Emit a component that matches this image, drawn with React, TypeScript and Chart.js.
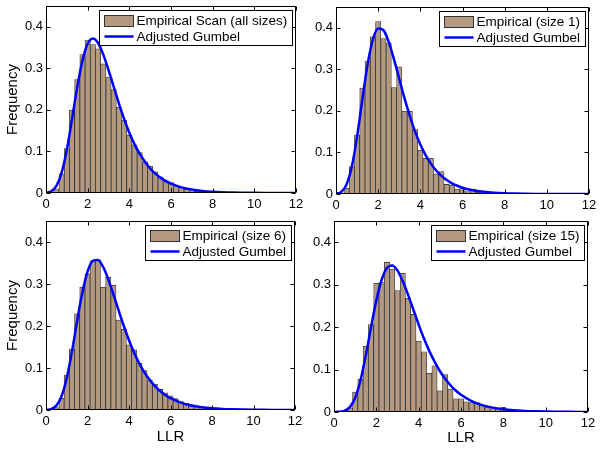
import React, { useEffect, useRef } from 'react';
import { Chart, registerables } from 'chart.js';

Chart.register(...registerables);

// ---- data ----
const binCenters = [0.25, 0.5, 0.75, 1, 1.25, 1.5, 1.75, 2, 2.25, 2.5, 2.75, 3, 3.25, 3.5, 3.75, 4, 4.25, 4.5, 4.75, 5,
  5.25, 5.5, 5.75, 6, 6.25, 6.5, 6.75, 7, 7.25, 7.5, 7.75, 8, 8.25, 8.5, 8.75, 9, 9.25, 9.5, 9.75, 10];

const freqAllSizes = [0.001, 0.010, 0.046, 0.107, 0.199, 0.273, 0.333, 0.368, 0.357, 0.347,
  0.311, 0.279, 0.249, 0.206, 0.175, 0.139, 0.116, 0.097, 0.075, 0.064,
  0.051, 0.039, 0.030, 0.025, 0.018, 0.014, 0.009, 0.006, 0.004, 0.0025,
  0.0015, 0.001, 0.0005, 0.0003, 0, 0, 0, 0, 0, 0];

const freqSize1 = [0.002, 0.014, 0.066, 0.142, 0.255, 0.320, 0.378, 0.415, 0.374, 0.364,
  0.256, 0.306, 0.199, 0.199, 0.155, 0.105, 0.086, 0.086, 0.048, 0.054,
  0.023, 0.021, 0.012, 0.013, 0.006, 0.012, 0.004, 0.003, 0.002, 0.002,
  0.001, 0.001, 0.0005, 0, 0, 0, 0, 0, 0, 0];

const freqSize6 = [0.001, 0.006, 0.028, 0.083, 0.145, 0.229, 0.292, 0.324, 0.355, 0.358,
  0.292, 0.316, 0.297, 0.214, 0.192, 0.155, 0.143, 0.111, 0.094, 0.072,
  0.061, 0.049, 0.041, 0.034, 0.027, 0.020, 0.016, 0.012, 0.008, 0.006,
  0.004, 0.003, 0.002, 0.001, 0.0005, 0, 0, 0, 0, 0];

const freqSize15 = [0, 0.004, 0.010, 0.047, 0.077, 0.155, 0.206, 0.303, 0.305, 0.353,
  0.337, 0.286, 0.327, 0.268, 0.230, 0.167, 0.142, 0.091, 0.109, 0.050,
  0.088, 0.054, 0.031, 0.031, 0.024, 0.022, 0.022, 0.016, 0.012, 0.008,
  0.007, 0.011, 0.006, 0.004, 0.003, 0.002, 0.002, 0.003, 0.001, 0];

const curveX = [0, 0.25, 0.5, 0.75, 1, 1.25, 1.5, 1.75, 2, 2.25, 2.5, 2.75, 3, 3.25, 3.5, 3.75, 4, 4.25, 4.5, 4.75,
  5, 5.25, 5.5, 5.75, 6, 6.5, 7, 7.5, 8, 8.5, 9, 9.5, 10, 10.5, 11, 11.5, 12];

const gumbelAllSizes = [0.0006, 0.004, 0.017, 0.049, 0.104, 0.178, 0.255, 0.319, 0.359, 0.372, 0.361, 0.333, 0.296,
  0.256, 0.215, 0.178, 0.145, 0.117, 0.094, 0.075, 0.059, 0.0465, 0.0365, 0.0286, 0.0224,
  0.0136, 0.0083, 0.005, 0.003, 0.0018, 0.0011, 0.0007, 0.0004, 0.00024, 0.00015, 0.00009, 0.00005];

const gumbelSize1 = [0.0007, 0.005, 0.023, 0.066, 0.138, 0.228, 0.312, 0.372, 0.398, 0.394, 0.366, 0.324, 0.277,
  0.230, 0.188, 0.150, 0.119, 0.0935, 0.073, 0.0565, 0.0436, 0.0336, 0.0258, 0.0198, 0.0151,
  0.0088, 0.0052, 0.003, 0.0017, 0.001, 0.0006, 0.0003, 0.00018, 0.0001, 0.00006, 0.00004, 0.00002];

const gumbelSize6 = [0.0003, 0.0023, 0.0105, 0.0328, 0.076, 0.139, 0.212, 0.279, 0.329, 0.355, 0.357, 0.341, 0.311,
  0.275, 0.237, 0.200, 0.166, 0.136, 0.1105, 0.089, 0.0713, 0.0569, 0.0452, 0.0358, 0.0283,
  0.0175, 0.0108, 0.0067, 0.0041, 0.0025, 0.0016, 0.00096, 0.00059, 0.00036, 0.00022, 0.00014, 0.00008];

const gumbelSize15 = [0.00004, 0.0004, 0.0028, 0.0115, 0.0335, 0.0742, 0.1325, 0.1997, 0.263, 0.311, 0.339, 0.345,
  0.333, 0.308, 0.276, 0.241, 0.206, 0.173, 0.144, 0.1185, 0.0966, 0.0782, 0.0631, 0.0507, 0.0405,
  0.0258, 0.0163, 0.0103, 0.0065, 0.0041, 0.0026, 0.0016, 0.001, 0.0006, 0.0004, 0.00025, 0.00015];

const empiricalLabels = ['Empirical Scan (all sizes)', 'Empirical (size 1)', 'Empirical (size 6)', 'Empirical (size 15)'];
const curveLabel = 'Adjusted Gumbel';
const xTitle = 'LLR';
const yTitle = 'Frequency';
const xMin = 0, xMax = 12, xStep = 2;
const yMin = 0, yMax = 0.45, yStep = 0.1;

// ---- styling / layout ----
const FONT = '"Liberation Sans", Arial, Helvetica, sans-serif';
const BAR_COLOR = '#b39980';
const BAR_EDGE = 'rgba(25,25,25,0.85)';
const CURVE_COLOR = '#0000ff';
const Y_AXIS_W = 46;

const panels = [
  { freq: freqAllSizes, curve: gumbelAllSizes, label: empiricalLabels[0], area: { left: 46, top: 6, right: 296, bottom: 193 }, yT: true, xT: false, xH: 30 },
  { freq: freqSize1, curve: gumbelSize1, label: empiricalLabels[1], area: { left: 336, top: 7, right: 589, bottom: 194 }, yT: false, xT: false, xH: 30 },
  { freq: freqSize6, curve: gumbelSize6, label: empiricalLabels[2], area: { left: 46, top: 221, right: 295, bottom: 410 }, yT: true, xT: true, xH: 36 },
  { freq: freqSize15, curve: gumbelSize15, label: empiricalLabels[3], area: { left: 334, top: 221, right: 588, bottom: 412 }, yT: false, xT: true, xH: 35 },
];

const framePlugin = {
  id: 'frameTicks',
  afterDatasetsDraw(chart: any) {
    const { ctx, chartArea, scales } = chart;
    const L = Math.round(chartArea.left) + 0.5;
    const R = Math.round(chartArea.right) - 0.5;
    const T = Math.round(chartArea.top) + 0.5;
    const B = Math.round(chartArea.bottom) - 0.5;
    const tl = 4;
    ctx.save();
    ctx.strokeStyle = '#000';
    ctx.lineWidth = 1;
    ctx.beginPath();
    scales.x.ticks.forEach((t: any) => {
      const px = Math.round(scales.x.getPixelForValue(t.value)) + 0.5;
      ctx.moveTo(px, B); ctx.lineTo(px, B - tl);
      ctx.moveTo(px, T); ctx.lineTo(px, T + tl);
    });
    scales.y.ticks.forEach((t: any) => {
      const py = Math.round(scales.y.getPixelForValue(t.value)) + 0.5;
      ctx.moveTo(L, py); ctx.lineTo(L + tl, py);
      ctx.moveTo(R, py); ctx.lineTo(R - tl, py);
    });
    ctx.stroke();
    ctx.strokeRect(L, T, R - L, B - T);
    ctx.restore();
  },
};

const legendPlugin = {
  id: 'panelLegend',
  afterDraw(chart: any, _args: any, opts: any) {
    const { ctx, chartArea } = chart;
    ctx.save();
    ctx.font = `13.5px ${FONT}`;
    const tw = Math.max(ctx.measureText(opts.label1).width, ctx.measureText(opts.label2).width);
    const padL = 5, sw = 29, gap = 3, padR = 5;
    const boxW = Math.round(padL + sw + gap + tw + padR);
    const boxH = 35;
    const bx = Math.round(chartArea.right - 4 - boxW) + 0.5;
    const by = Math.round(chartArea.top + 4) + 0.5;
    ctx.fillStyle = '#fff';
    ctx.fillRect(bx, by, boxW, boxH);
    ctx.strokeStyle = '#000';
    ctx.lineWidth = 1;
    ctx.strokeRect(bx, by, boxW, boxH);
    ctx.fillStyle = BAR_COLOR;
    ctx.fillRect(bx + padL, by + 5, sw, 11);
    ctx.strokeStyle = BAR_EDGE;
    ctx.strokeRect(bx + padL, by + 5, sw, 11);
    ctx.strokeStyle = CURVE_COLOR;
    ctx.lineWidth = 2.5;
    ctx.beginPath();
    ctx.moveTo(bx + padL, by + 26);
    ctx.lineTo(bx + padL + sw, by + 26);
    ctx.stroke();
    ctx.fillStyle = '#000';
    ctx.textAlign = 'left';
    ctx.textBaseline = 'middle';
    ctx.fillText(opts.label1, bx + padL + sw + gap, by + 11);
    ctx.fillText(opts.label2, bx + padL + sw + gap, by + 26.5);
    ctx.restore();
  },
};

function makeConfig(p: any) {
  const tickFont = { family: FONT, size: 13 };
  const titleFont = { family: FONT, size: 15 };
  return {
    type: 'bar',
    data: {
      datasets: [
        {
          type: 'line',
          label: curveLabel,
          data: curveX.map((x, i) => ({ x, y: p.curve[i] })),
          borderColor: CURVE_COLOR,
          borderWidth: 2.5,
          pointRadius: 0,
          fill: false,
          cubicInterpolationMode: 'monotone',
          order: 0,
        },
        {
          type: 'bar',
          label: p.label,
          data: binCenters.map((x, i) => ({ x, y: p.freq[i] })),
          backgroundColor: BAR_COLOR,
          borderColor: BAR_EDGE,
          borderWidth: 0.8,
          barPercentage: 1,
          categoryPercentage: 1,
          order: 1,
        },
      ],
    },
    options: {
      responsive: false,
      animation: false,
      events: [],
      layout: {
        padding: {
          left: p.area.left - Y_AXIS_W,
          top: p.area.top,
          right: 600 - p.area.right,
          bottom: 450 - p.area.bottom - p.xH,
        },
      },
      plugins: {
        legend: { display: false },
        tooltip: { enabled: false },
        panelLegend: { label1: p.label, label2: curveLabel },
      },
      scales: {
        x: {
          type: 'linear',
          min: xMin,
          max: xMax,
          offset: false,
          grid: { display: false, drawTicks: false },
          border: { display: false },
          ticks: { stepSize: xStep, font: tickFont, color: '#000', padding: 4, maxRotation: 0, autoSkip: false, includeBounds: false },
          title: { display: p.xT, text: xTitle, font: titleFont, color: '#000', padding: { top: 0, bottom: 0 } },
          afterFit: (s: any) => { s.height = p.xH; s.paddingLeft = 0; s.paddingRight = 0; },
        },
        y: {
          type: 'linear',
          min: yMin,
          max: yMax,
          grid: { display: false, drawTicks: false },
          border: { display: false },
          ticks: { stepSize: yStep, font: tickFont, color: '#000', padding: 3, includeBounds: false },
          title: { display: p.yT, text: yTitle, font: titleFont, color: '#000', padding: { top: 3.5, bottom: 0 } },
          afterFit: (s: any) => { s.width = Y_AXIS_W; s.paddingTop = 0; s.paddingBottom = 0; },
        },
      },
    },
    plugins: [framePlugin, legendPlugin],
  };
}

export default function App() {
  const refs = useRef<(HTMLCanvasElement | null)[]>([]);
  useEffect(() => {
    const charts = panels.map((p, i) => new Chart(refs.current[i] as HTMLCanvasElement, makeConfig(p) as any));
    return () => charts.forEach((c) => c.destroy());
  }, []);
  return (
    <div style={{ position: 'absolute', left: 0, top: 0, width: 600, height: 450, background: '#fff', overflow: 'hidden' }}>
      {panels.map((_, i) => (
        <canvas
          key={i}
          ref={(el) => { refs.current[i] = el; }}
          width={600}
          height={450}
          style={{ position: 'absolute', left: 0, top: 0, width: 600, height: 450 }}
        />
      ))}
    </div>
  );
}
